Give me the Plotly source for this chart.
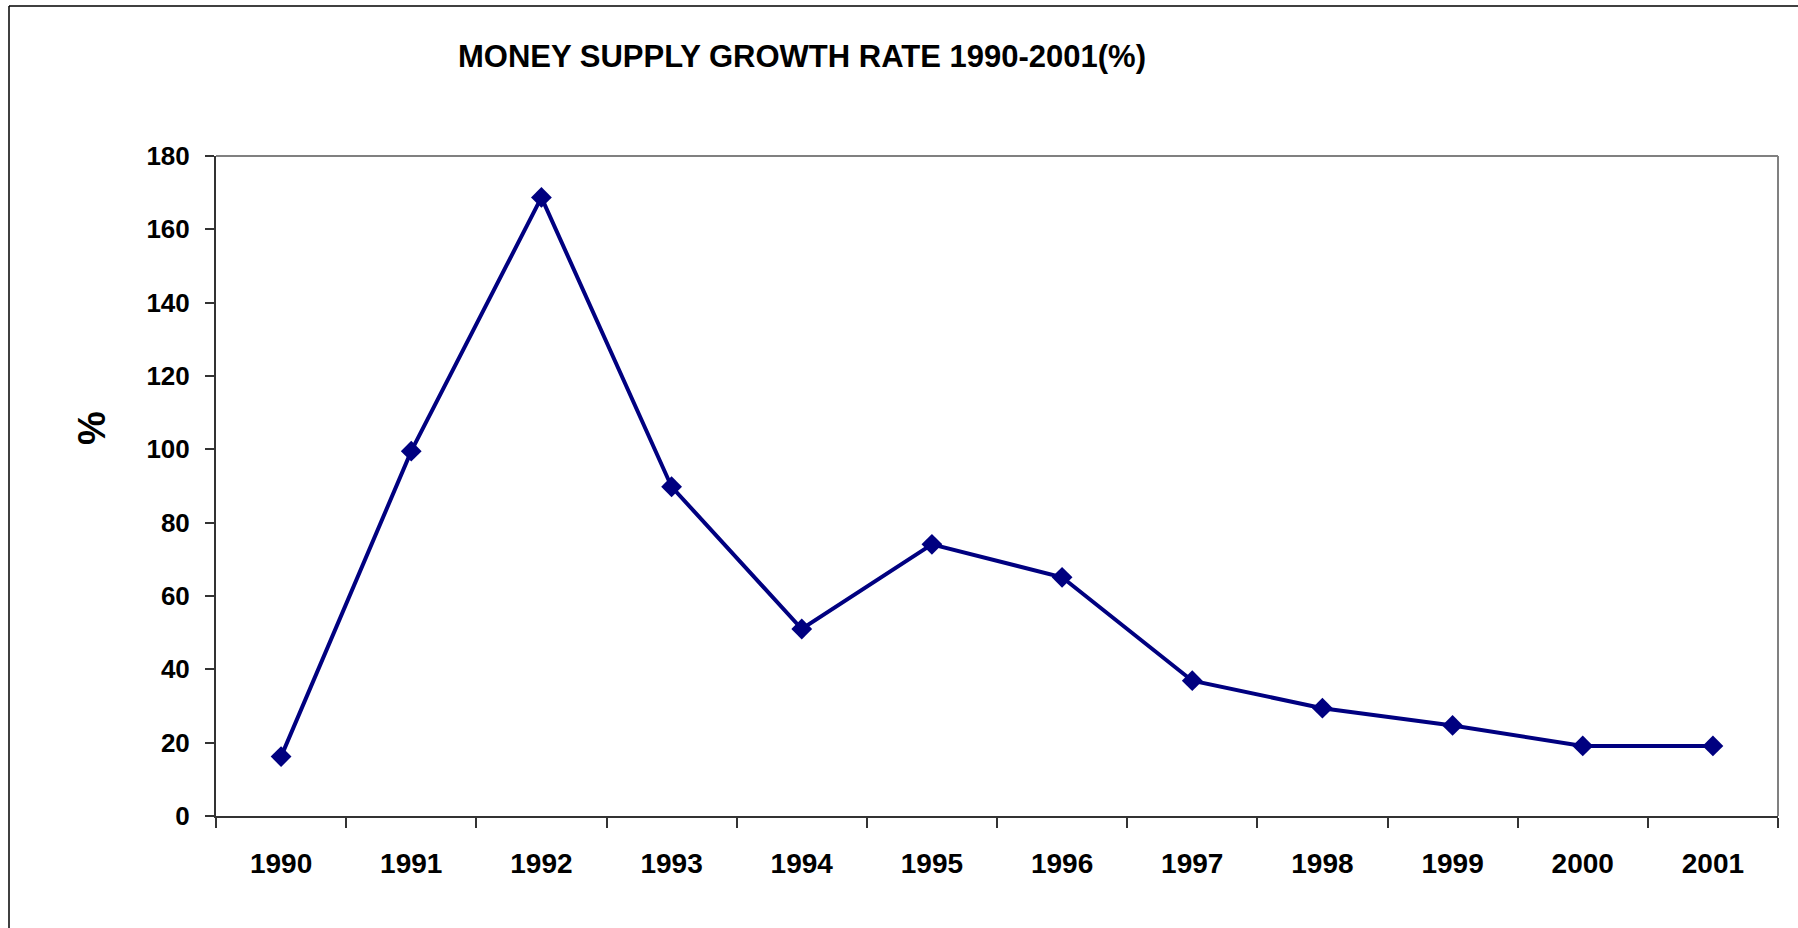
import plotly.graph_objects as go

# money supply growth rate, percent
years = ['1990', '1991', '1992', '1993', '1994', '1995',
         '1996', '1997', '1998', '1999', '2000', '2001']
growth = [16.2, 99.5, 168.7, 89.8, 51.0, 74.1, 65.1, 36.9, 29.4, 24.7, 19.1, 19.1]
y_ticks = [0, 20, 40, 60, 80, 100, 120, 140, 160, 180]

W, H = 1798, 928
L, R, T, B = 216, 20, 156, 112
pw, ph = W - L - R, H - T - B

fig = go.Figure()

fig.add_trace(go.Scatter(
    x=years, y=growth,
    mode='lines+markers',
    line=dict(color='#000080', width=4),
    marker=dict(symbol='diamond', size=16, color='#000080'),
    showlegend=False
))

font = 'Arial, Liberation Sans, sans-serif'

# paper coords of the outer chart border (left / top edges)
bx = (9 - L) / pw
by = (H - B - 6) / ph

fig.update_layout(
    width=W, height=H,
    margin=dict(l=L, r=R, t=T, b=B),
    paper_bgcolor='white',
    plot_bgcolor='white',
    font=dict(family=font, color='black'),
    title=dict(
        text='MONEY SUPPLY GROWTH RATE 1990-2001(%)',
        font=dict(size=31, family=font, color='black', weight='bold'),
        x=802 / W, xanchor='center',
        y=1 - 56 / H, yanchor='middle'
    ),
    xaxis=dict(
        type='category',
        tickson='boundaries',
        ticks='outside', ticklen=10, tickwidth=1.5, tickcolor='#333',
        showline=True, linecolor='#333', linewidth=2,
        showgrid=False, zeroline=False,
        tickfont=dict(size=28, family=font, color='black', weight='bold'),
        ticklabelstandoff=21,
        automargin=False,
        range=[-0.5, 11.5]
    ),
    yaxis=dict(
        range=[0, 180],
        tickvals=y_ticks,
        ticks='outside', ticklen=9, tickwidth=1.5, tickcolor='#333',
        showline=True, linecolor='#333', linewidth=2,
        showgrid=False, zeroline=False,
        tickfont=dict(size=26, family=font, color='black', weight='bold'),
        ticklabelstandoff=10,
        automargin=False
    ),
    annotations=[
        dict(text='%', textangle=-90, showarrow=False,
             xref='paper', yref='paper',
             x=(92 - L) / pw, y=(H - B - 428) / ph,
             xanchor='center', yanchor='middle',
             font=dict(size=38, family=font, color='black', weight='bold'))
    ],
    shapes=[
        # top and right frame of the plot area (grey)
        dict(type='line', xref='paper', yref='paper', x0=0, x1=1, y0=1, y1=1,
             line=dict(color='#808080', width=2)),
        dict(type='line', xref='paper', yref='paper', x0=1, x1=1, y0=0, y1=1,
             line=dict(color='#808080', width=2)),
        # outer chart border
        dict(type='line', xref='paper', yref='paper',
             x0=bx, x1=bx, y0=by, y1=-0.3,
             line=dict(color='black', width=1.5)),
        dict(type='line', xref='paper', yref='paper',
             x0=bx, x1=1.1, y0=by, y1=by,
             line=dict(color='black', width=1.5)),
    ]
)

fig.write_html("out.html", config={'displayModeBar': False},
               post_script="document.body.style.margin='0';")
